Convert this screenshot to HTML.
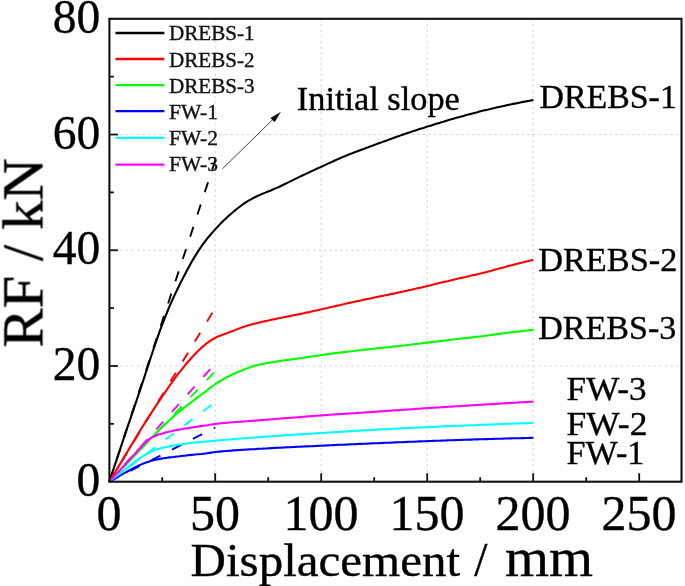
<!DOCTYPE html>
<html><head><meta charset="utf-8"><title>RF vs Displacement</title>
<style>html,body{margin:0;padding:0;background:#fff;font-family:"Liberation Serif",serif}body{width:685px;height:586px;overflow:hidden}</style>
</head><body>
<svg width="685" height="586" viewBox="0 0 685 586" style="display:block;font-family:'Liberation Serif',serif">
<defs><filter id="soft" x="0" y="0" width="685" height="586" filterUnits="userSpaceOnUse" color-interpolation-filters="sRGB"><feGaussianBlur stdDeviation="0.5"/></filter></defs>
<style>text{stroke:#000;stroke-width:0.35px;paint-order:stroke fill}</style>
<rect width="685" height="586" fill="#ffffff"/>
<g filter="url(#soft)">
<line x1="215.20" y1="18.80" x2="215.20" y2="481.70" stroke="#d2d2d2" stroke-width="1" stroke-dasharray="2.3 3.2"/>
<line x1="321.20" y1="18.80" x2="321.20" y2="481.70" stroke="#d2d2d2" stroke-width="1" stroke-dasharray="2.3 3.2"/>
<line x1="427.20" y1="18.80" x2="427.20" y2="481.70" stroke="#d2d2d2" stroke-width="1" stroke-dasharray="2.3 3.2"/>
<line x1="533.20" y1="18.80" x2="533.20" y2="481.70" stroke="#d2d2d2" stroke-width="1" stroke-dasharray="2.3 3.2"/>
<line x1="109.40" y1="365.98" x2="681.50" y2="365.98" stroke="#d2d2d2" stroke-width="1" stroke-dasharray="2.3 3.2"/>
<line x1="109.40" y1="250.25" x2="681.50" y2="250.25" stroke="#d2d2d2" stroke-width="1" stroke-dasharray="2.3 3.2"/>
<line x1="109.40" y1="134.52" x2="681.50" y2="134.52" stroke="#d2d2d2" stroke-width="1" stroke-dasharray="2.3 3.2"/>
<line x1="109.40" y1="481.70" x2="215.20" y2="427.54" stroke="#0000ff" stroke-width="1.9" stroke-dasharray="10.4 13.05"/>
<line x1="109.40" y1="481.70" x2="215.20" y2="402.25" stroke="#00ffff" stroke-width="1.9" stroke-dasharray="10.4 13.05"/>
<line x1="109.40" y1="481.70" x2="215.20" y2="371.36" stroke="#00ff00" stroke-width="1.9" stroke-dasharray="10.4 13.05"/>
<line x1="109.40" y1="481.70" x2="215.20" y2="363.66" stroke="#ff00ff" stroke-width="1.9" stroke-dasharray="10.4 13.05"/>
<line x1="109.40" y1="481.70" x2="215.20" y2="308.11" stroke="#ff0000" stroke-width="1.9" stroke-dasharray="10.4 13.05"/>
<line x1="109.40" y1="481.70" x2="217.32" y2="154.20" stroke="#000000" stroke-width="1.9" stroke-dasharray="10.4 13.05"/>
<path d="M109.4 481.5 L111.4 475.4 L113.4 469.4 L115.4 463.3 L117.4 457.3 L119.4 451.3 L121.4 445.3 L123.4 439.3 L125.4 433.4 L127.4 427.4 L129.4 421.6 L131.4 415.7 L133.4 409.8 L135.4 403.9 L137.4 398.0 L139.4 392.1 L141.4 386.1 L143.4 380.0 L145.4 373.9 L147.4 367.7 L149.4 361.6 L151.4 355.5 L153.4 349.5 L155.4 343.6 L157.4 337.8 L159.4 332.1 L161.4 326.7 L163.4 321.5 L165.4 316.4 L167.4 311.5 L169.4 306.7 L171.4 302.1 L173.4 297.6 L175.4 293.4 L177.4 289.2 L179.4 285.1 L181.4 281.1 L183.4 277.2 L185.4 273.4 L187.4 269.6 L189.4 265.9 L191.4 262.3 L193.4 258.9 L195.4 255.6 L197.4 252.4 L199.4 249.3 L201.4 246.4 L203.4 243.6 L205.4 241.0 L207.4 238.4 L209.4 236.0 L211.4 233.6 L213.4 231.4 L215.4 229.1 L217.4 227.0 L219.4 224.9 L221.4 222.8 L223.4 220.8 L225.4 218.9 L227.4 217.0 L229.4 215.2 L231.4 213.5 L233.4 211.8 L235.4 210.1 L237.4 208.5 L239.4 207.0 L241.4 205.5 L243.4 204.0 L245.4 202.7 L247.4 201.4 L249.4 200.2 L251.4 199.1 L253.4 198.0 L255.4 197.0 L257.4 196.0 L259.4 195.1 L261.4 194.3 L263.4 193.4 L265.4 192.6 L267.4 191.8 L269.4 191.0 L271.4 190.2 L273.4 189.3 L275.4 188.4 L277.4 187.6 L279.4 186.7 L281.4 185.7 L283.4 184.8 L285.4 183.8 L287.4 182.9 L289.4 181.9 L291.4 180.9 L293.4 179.9 L295.4 178.9 L297.4 177.9 L299.4 176.9 L301.4 176.0 L303.4 175.0 L305.4 174.1 L307.4 173.1 L309.4 172.2 L311.4 171.3 L313.4 170.4 L315.4 169.4 L317.4 168.5 L319.4 167.6 L321.4 166.7 L323.4 165.8 L325.4 164.9 L327.4 163.9 L329.4 163.0 L331.4 162.1 L333.4 161.2 L335.4 160.3 L337.4 159.4 L339.4 158.5 L341.4 157.6 L343.4 156.8 L345.4 156.0 L347.4 155.1 L349.4 154.3 L351.4 153.6 L353.4 152.8 L355.4 152.0 L357.4 151.3 L359.4 150.5 L361.4 149.8 L363.4 149.1 L365.4 148.3 L367.4 147.6 L369.4 146.8 L371.4 146.1 L373.4 145.3 L375.4 144.6 L377.4 143.8 L379.4 143.1 L381.4 142.4 L383.4 141.6 L385.4 140.9 L387.4 140.2 L389.4 139.4 L391.4 138.7 L393.4 138.0 L395.4 137.3 L397.4 136.6 L399.4 135.9 L401.4 135.1 L403.4 134.4 L405.4 133.8 L407.4 133.1 L409.4 132.4 L411.4 131.7 L413.4 131.1 L415.4 130.4 L417.4 129.8 L419.4 129.1 L421.4 128.5 L423.4 127.9 L425.4 127.2 L427.4 126.6 L429.4 126.0 L431.4 125.4 L433.4 124.7 L435.4 124.1 L437.4 123.5 L439.4 122.9 L441.4 122.3 L443.4 121.7 L445.4 121.0 L447.4 120.4 L449.4 119.8 L451.4 119.3 L453.4 118.7 L455.4 118.1 L457.4 117.5 L459.4 117.0 L461.4 116.4 L463.4 115.9 L465.4 115.3 L467.4 114.8 L469.4 114.2 L471.4 113.7 L473.4 113.2 L475.4 112.7 L477.4 112.2 L479.4 111.6 L481.4 111.1 L483.4 110.6 L485.4 110.1 L487.4 109.7 L489.4 109.2 L491.4 108.7 L493.4 108.2 L495.4 107.8 L497.4 107.3 L499.4 106.9 L501.4 106.4 L503.4 106.0 L505.4 105.6 L507.4 105.1 L509.4 104.7 L511.4 104.3 L513.4 103.9 L515.4 103.5 L517.4 103.1 L519.4 102.7 L521.4 102.3 L523.4 101.9 L525.4 101.5 L527.4 101.1 L529.4 100.8 L531.4 100.4 L533.4 100.0" fill="none" stroke="#000000" stroke-width="2.1" stroke-linejoin="round"/>
<path d="M109.4 481.5 L111.4 478.2 L113.4 474.9 L115.4 471.7 L117.4 468.4 L119.4 465.1 L121.4 461.7 L123.4 458.4 L125.4 455.1 L127.4 451.7 L129.4 448.4 L131.4 445.0 L133.4 441.7 L135.4 438.3 L137.4 435.0 L139.4 431.8 L141.4 428.5 L143.4 425.3 L145.4 422.1 L147.4 418.9 L149.4 415.8 L151.4 412.7 L153.4 409.6 L155.4 406.6 L157.4 403.6 L159.4 400.6 L161.4 397.7 L163.4 394.7 L165.4 391.8 L167.4 388.9 L169.4 386.0 L171.4 383.1 L173.4 380.3 L175.4 377.6 L177.4 374.9 L179.4 372.3 L181.4 369.8 L183.4 367.3 L185.4 364.9 L187.4 362.5 L189.4 360.2 L191.4 358.0 L193.4 355.8 L195.4 353.7 L197.4 351.6 L199.4 349.7 L201.4 347.8 L203.4 346.1 L205.4 344.4 L207.4 342.8 L209.4 341.4 L211.4 340.0 L213.4 338.8 L215.4 337.7 L217.4 336.8 L219.4 335.9 L221.4 335.2 L223.4 334.4 L225.4 333.7 L227.4 333.0 L229.4 332.3 L231.4 331.5 L233.4 330.7 L235.4 329.9 L237.4 329.1 L239.4 328.4 L241.4 327.6 L243.4 326.9 L245.4 326.3 L247.4 325.6 L249.4 325.1 L251.4 324.5 L253.4 324.0 L255.4 323.5 L257.4 323.0 L259.4 322.5 L261.4 322.0 L263.4 321.5 L265.4 321.1 L267.4 320.7 L269.4 320.2 L271.4 319.8 L273.4 319.4 L275.4 319.0 L277.4 318.6 L279.4 318.1 L281.4 317.7 L283.4 317.3 L285.4 316.9 L287.4 316.5 L289.4 316.1 L291.4 315.7 L293.4 315.3 L295.4 314.9 L297.4 314.5 L299.4 314.1 L301.4 313.7 L303.4 313.3 L305.4 312.8 L307.4 312.4 L309.4 312.0 L311.4 311.5 L313.4 311.1 L315.4 310.6 L317.4 310.2 L319.4 309.7 L321.4 309.3 L323.4 308.8 L325.4 308.4 L327.4 307.9 L329.4 307.4 L331.4 307.0 L333.4 306.5 L335.4 306.1 L337.4 305.6 L339.4 305.2 L341.4 304.7 L343.4 304.3 L345.4 303.8 L347.4 303.3 L349.4 302.9 L351.4 302.4 L353.4 302.0 L355.4 301.6 L357.4 301.1 L359.4 300.7 L361.4 300.3 L363.4 299.8 L365.4 299.4 L367.4 299.0 L369.4 298.6 L371.4 298.2 L373.4 297.7 L375.4 297.3 L377.4 296.9 L379.4 296.5 L381.4 296.1 L383.4 295.7 L385.4 295.3 L387.4 294.9 L389.4 294.4 L391.4 294.0 L393.4 293.6 L395.4 293.2 L397.4 292.8 L399.4 292.3 L401.4 291.9 L403.4 291.5 L405.4 291.0 L407.4 290.6 L409.4 290.1 L411.4 289.7 L413.4 289.2 L415.4 288.8 L417.4 288.3 L419.4 287.9 L421.4 287.4 L423.4 286.9 L425.4 286.5 L427.4 286.0 L429.4 285.5 L431.4 285.1 L433.4 284.6 L435.4 284.1 L437.4 283.6 L439.4 283.1 L441.4 282.6 L443.4 282.1 L445.4 281.6 L447.4 281.2 L449.4 280.7 L451.4 280.2 L453.4 279.7 L455.4 279.3 L457.4 278.8 L459.4 278.3 L461.4 277.9 L463.4 277.4 L465.4 277.0 L467.4 276.5 L469.4 276.1 L471.4 275.6 L473.4 275.1 L475.4 274.7 L477.4 274.2 L479.4 273.7 L481.4 273.3 L483.4 272.8 L485.4 272.3 L487.4 271.7 L489.4 271.2 L491.4 270.7 L493.4 270.1 L495.4 269.6 L497.4 269.1 L499.4 268.5 L501.4 268.0 L503.4 267.4 L505.4 266.9 L507.4 266.3 L509.4 265.8 L511.4 265.3 L513.4 264.7 L515.4 264.2 L517.4 263.7 L519.4 263.2 L521.4 262.7 L523.4 262.2 L525.4 261.8 L527.4 261.3 L529.4 260.8 L531.4 260.3 L533.4 259.8" fill="none" stroke="#ff0000" stroke-width="2.1" stroke-linejoin="round"/>
<path d="M109.4 481.5 L111.4 479.5 L113.4 477.5 L115.4 475.4 L117.4 473.4 L119.4 471.4 L121.4 469.3 L123.4 467.2 L125.4 465.2 L127.4 463.1 L129.4 461.0 L131.4 458.9 L133.4 456.9 L135.4 454.8 L137.4 452.7 L139.4 450.6 L141.4 448.5 L143.4 446.4 L145.4 444.2 L147.4 442.1 L149.4 440.0 L151.4 437.9 L153.4 435.9 L155.4 433.8 L157.4 431.8 L159.4 429.8 L161.4 427.8 L163.4 425.9 L165.4 424.0 L167.4 422.0 L169.4 420.2 L171.4 418.4 L173.4 416.6 L175.4 414.8 L177.4 413.2 L179.4 411.5 L181.4 409.9 L183.4 408.3 L185.4 406.7 L187.4 405.2 L189.4 403.6 L191.4 402.1 L193.4 400.6 L195.4 399.2 L197.4 397.7 L199.4 396.2 L201.4 394.7 L203.4 393.1 L205.4 391.6 L207.4 390.0 L209.4 388.4 L211.4 386.9 L213.4 385.5 L215.4 384.1 L217.4 382.8 L219.4 381.5 L221.4 380.3 L223.4 379.2 L225.4 378.1 L227.4 377.0 L229.4 376.0 L231.4 375.0 L233.4 374.0 L235.4 373.1 L237.4 372.2 L239.4 371.4 L241.4 370.6 L243.4 369.8 L245.4 369.0 L247.4 368.2 L249.4 367.5 L251.4 366.8 L253.4 366.2 L255.4 365.6 L257.4 365.0 L259.4 364.5 L261.4 364.1 L263.4 363.7 L265.4 363.3 L267.4 363.0 L269.4 362.6 L271.4 362.3 L273.4 362.0 L275.4 361.7 L277.4 361.4 L279.4 361.1 L281.4 360.8 L283.4 360.5 L285.4 360.2 L287.4 359.9 L289.4 359.7 L291.4 359.4 L293.4 359.1 L295.4 358.8 L297.4 358.6 L299.4 358.3 L301.4 358.0 L303.4 357.7 L305.4 357.4 L307.4 357.1 L309.4 356.8 L311.4 356.5 L313.4 356.2 L315.4 355.9 L317.4 355.6 L319.4 355.3 L321.4 355.0 L323.4 354.7 L325.4 354.4 L327.4 354.2 L329.4 353.9 L331.4 353.7 L333.4 353.4 L335.4 353.1 L337.4 352.9 L339.4 352.7 L341.4 352.4 L343.4 352.2 L345.4 351.9 L347.4 351.7 L349.4 351.5 L351.4 351.2 L353.4 351.0 L355.4 350.7 L357.4 350.5 L359.4 350.3 L361.4 350.1 L363.4 349.8 L365.4 349.6 L367.4 349.4 L369.4 349.2 L371.4 349.0 L373.4 348.8 L375.4 348.5 L377.4 348.3 L379.4 348.1 L381.4 347.9 L383.4 347.7 L385.4 347.5 L387.4 347.3 L389.4 347.1 L391.4 346.8 L393.4 346.6 L395.4 346.4 L397.4 346.2 L399.4 346.0 L401.4 345.7 L403.4 345.5 L405.4 345.3 L407.4 345.0 L409.4 344.8 L411.4 344.6 L413.4 344.3 L415.4 344.1 L417.4 343.8 L419.4 343.6 L421.4 343.3 L423.4 343.1 L425.4 342.9 L427.4 342.6 L429.4 342.4 L431.4 342.1 L433.4 341.9 L435.4 341.7 L437.4 341.4 L439.4 341.2 L441.4 340.9 L443.4 340.7 L445.4 340.5 L447.4 340.2 L449.4 340.0 L451.4 339.7 L453.4 339.5 L455.4 339.3 L457.4 339.0 L459.4 338.8 L461.4 338.6 L463.4 338.3 L465.4 338.1 L467.4 337.9 L469.4 337.7 L471.4 337.4 L473.4 337.2 L475.4 336.9 L477.4 336.7 L479.4 336.5 L481.4 336.2 L483.4 336.0 L485.4 335.7 L487.4 335.5 L489.4 335.2 L491.4 334.9 L493.4 334.7 L495.4 334.4 L497.4 334.1 L499.4 333.9 L501.4 333.6 L503.4 333.3 L505.4 333.1 L507.4 332.8 L509.4 332.6 L511.4 332.3 L513.4 332.1 L515.4 331.8 L517.4 331.6 L519.4 331.4 L521.4 331.2 L523.4 330.9 L525.4 330.7 L527.4 330.5 L529.4 330.3 L531.4 330.1 L533.4 329.9" fill="none" stroke="#00ff00" stroke-width="2.1" stroke-linejoin="round"/>
<path d="M109.4 481.5 L111.4 480.4 L113.4 479.2 L115.4 478.1 L117.4 477.0 L119.4 475.9 L121.4 474.8 L123.4 473.7 L125.4 472.6 L127.4 471.5 L129.4 470.4 L131.4 469.3 L133.4 468.3 L135.4 467.3 L137.4 466.3 L139.4 465.3 L141.4 464.4 L143.4 463.5 L145.4 462.8 L147.4 462.0 L149.4 461.4 L151.4 460.8 L153.4 460.3 L155.4 459.8 L157.4 459.4 L159.4 459.0 L161.4 458.6 L163.4 458.3 L165.4 458.0 L167.4 457.7 L169.4 457.4 L171.4 457.2 L173.4 457.0 L175.4 456.7 L177.4 456.5 L179.4 456.3 L181.4 456.0 L183.4 455.8 L185.4 455.6 L187.4 455.3 L189.4 455.1 L191.4 454.9 L193.4 454.7 L195.4 454.5 L197.4 454.3 L199.4 454.2 L201.4 454.0 L203.4 453.7 L205.4 453.5 L207.4 453.2 L209.4 452.9 L211.4 452.6 L213.4 452.3 L215.4 452.0 L217.4 451.8 L219.4 451.6 L221.4 451.4 L223.4 451.2 L225.4 451.0 L227.4 450.9 L229.4 450.7 L231.4 450.6 L233.4 450.4 L235.4 450.3 L237.4 450.1 L239.4 450.0 L241.4 449.9 L243.4 449.8 L245.4 449.6 L247.4 449.5 L249.4 449.4 L251.4 449.3 L253.4 449.2 L255.4 449.1 L257.4 448.9 L259.4 448.8 L261.4 448.7 L263.4 448.6 L265.4 448.5 L267.4 448.4 L269.4 448.2 L271.4 448.1 L273.4 448.0 L275.4 447.9 L277.4 447.8 L279.4 447.7 L281.4 447.6 L283.4 447.5 L285.4 447.4 L287.4 447.3 L289.4 447.2 L291.4 447.1 L293.4 447.0 L295.4 446.9 L297.4 446.8 L299.4 446.7 L301.4 446.6 L303.4 446.5 L305.4 446.4 L307.4 446.4 L309.4 446.3 L311.4 446.2 L313.4 446.1 L315.4 446.0 L317.4 445.9 L319.4 445.8 L321.4 445.7 L323.4 445.6 L325.4 445.5 L327.4 445.4 L329.4 445.3 L331.4 445.2 L333.4 445.1 L335.4 445.0 L337.4 444.9 L339.4 444.8 L341.4 444.8 L343.4 444.7 L345.4 444.6 L347.4 444.5 L349.4 444.4 L351.4 444.3 L353.4 444.2 L355.4 444.1 L357.4 444.0 L359.4 443.9 L361.4 443.9 L363.4 443.8 L365.4 443.7 L367.4 443.6 L369.4 443.5 L371.4 443.4 L373.4 443.3 L375.4 443.3 L377.4 443.2 L379.4 443.1 L381.4 443.0 L383.4 442.9 L385.4 442.8 L387.4 442.7 L389.4 442.7 L391.4 442.6 L393.4 442.5 L395.4 442.4 L397.4 442.3 L399.4 442.2 L401.4 442.2 L403.4 442.1 L405.4 442.0 L407.4 441.9 L409.4 441.8 L411.4 441.7 L413.4 441.7 L415.4 441.6 L417.4 441.5 L419.4 441.4 L421.4 441.4 L423.4 441.3 L425.4 441.2 L427.4 441.1 L429.4 441.0 L431.4 441.0 L433.4 440.9 L435.4 440.8 L437.4 440.8 L439.4 440.7 L441.4 440.6 L443.4 440.5 L445.4 440.5 L447.4 440.4 L449.4 440.3 L451.4 440.2 L453.4 440.2 L455.4 440.1 L457.4 440.0 L459.4 440.0 L461.4 439.9 L463.4 439.8 L465.4 439.8 L467.4 439.7 L469.4 439.6 L471.4 439.6 L473.4 439.5 L475.4 439.4 L477.4 439.4 L479.4 439.3 L481.4 439.3 L483.4 439.2 L485.4 439.1 L487.4 439.1 L489.4 439.0 L491.4 439.0 L493.4 438.9 L495.4 438.8 L497.4 438.8 L499.4 438.7 L501.4 438.7 L503.4 438.6 L505.4 438.5 L507.4 438.5 L509.4 438.4 L511.4 438.4 L513.4 438.3 L515.4 438.3 L517.4 438.2 L519.4 438.2 L521.4 438.1 L523.4 438.1 L525.4 438.0 L527.4 438.0 L529.4 437.9 L531.4 437.9 L533.4 437.8" fill="none" stroke="#0000ff" stroke-width="2.1" stroke-linejoin="round"/>
<path d="M109.4 481.5 L111.4 480.0 L113.4 478.5 L115.4 477.0 L117.4 475.5 L119.4 473.9 L121.4 472.4 L123.4 470.8 L125.4 469.3 L127.4 467.7 L129.4 466.1 L131.4 464.5 L133.4 462.9 L135.4 461.4 L137.4 459.9 L139.4 458.5 L141.4 457.2 L143.4 455.9 L145.4 454.7 L147.4 453.6 L149.4 452.5 L151.4 451.6 L153.4 450.7 L155.4 449.9 L157.4 449.3 L159.4 448.7 L161.4 448.1 L163.4 447.6 L165.4 447.2 L167.4 446.8 L169.4 446.4 L171.4 446.0 L173.4 445.6 L175.4 445.2 L177.4 444.9 L179.4 444.6 L181.4 444.3 L183.4 444.0 L185.4 443.7 L187.4 443.4 L189.4 443.1 L191.4 442.9 L193.4 442.7 L195.4 442.5 L197.4 442.3 L199.4 442.1 L201.4 441.9 L203.4 441.7 L205.4 441.6 L207.4 441.4 L209.4 441.2 L211.4 441.0 L213.4 440.9 L215.4 440.7 L217.4 440.5 L219.4 440.3 L221.4 440.2 L223.4 440.0 L225.4 439.8 L227.4 439.7 L229.4 439.5 L231.4 439.3 L233.4 439.1 L235.4 439.0 L237.4 438.8 L239.4 438.7 L241.4 438.5 L243.4 438.3 L245.4 438.2 L247.4 438.0 L249.4 437.9 L251.4 437.7 L253.4 437.5 L255.4 437.4 L257.4 437.2 L259.4 437.1 L261.4 437.0 L263.4 436.8 L265.4 436.7 L267.4 436.5 L269.4 436.4 L271.4 436.2 L273.4 436.1 L275.4 436.0 L277.4 435.8 L279.4 435.7 L281.4 435.6 L283.4 435.4 L285.4 435.3 L287.4 435.2 L289.4 435.0 L291.4 434.9 L293.4 434.8 L295.4 434.6 L297.4 434.5 L299.4 434.4 L301.4 434.3 L303.4 434.1 L305.4 434.0 L307.4 433.9 L309.4 433.7 L311.4 433.6 L313.4 433.5 L315.4 433.4 L317.4 433.2 L319.4 433.1 L321.4 433.0 L323.4 432.9 L325.4 432.7 L327.4 432.6 L329.4 432.5 L331.4 432.4 L333.4 432.2 L335.4 432.1 L337.4 432.0 L339.4 431.9 L341.4 431.7 L343.4 431.6 L345.4 431.5 L347.4 431.4 L349.4 431.2 L351.4 431.1 L353.4 431.0 L355.4 430.9 L357.4 430.8 L359.4 430.6 L361.4 430.5 L363.4 430.4 L365.4 430.3 L367.4 430.2 L369.4 430.1 L371.4 430.0 L373.4 429.9 L375.4 429.7 L377.4 429.6 L379.4 429.5 L381.4 429.4 L383.4 429.3 L385.4 429.2 L387.4 429.1 L389.4 429.0 L391.4 428.9 L393.4 428.8 L395.4 428.7 L397.4 428.6 L399.4 428.5 L401.4 428.4 L403.4 428.3 L405.4 428.2 L407.4 428.1 L409.4 428.0 L411.4 427.9 L413.4 427.8 L415.4 427.7 L417.4 427.6 L419.4 427.5 L421.4 427.4 L423.4 427.3 L425.4 427.2 L427.4 427.1 L429.4 427.0 L431.4 426.9 L433.4 426.9 L435.4 426.8 L437.4 426.7 L439.4 426.6 L441.4 426.5 L443.4 426.4 L445.4 426.3 L447.4 426.2 L449.4 426.2 L451.4 426.1 L453.4 426.0 L455.4 425.9 L457.4 425.8 L459.4 425.7 L461.4 425.7 L463.4 425.6 L465.4 425.5 L467.4 425.4 L469.4 425.3 L471.4 425.2 L473.4 425.2 L475.4 425.1 L477.4 425.0 L479.4 424.9 L481.4 424.8 L483.4 424.8 L485.4 424.7 L487.4 424.6 L489.4 424.5 L491.4 424.5 L493.4 424.4 L495.4 424.3 L497.4 424.2 L499.4 424.1 L501.4 424.1 L503.4 424.0 L505.4 423.9 L507.4 423.8 L509.4 423.8 L511.4 423.7 L513.4 423.6 L515.4 423.5 L517.4 423.5 L519.4 423.4 L521.4 423.3 L523.4 423.3 L525.4 423.2 L527.4 423.1 L529.4 423.0 L531.4 423.0 L533.4 422.9" fill="none" stroke="#00ffff" stroke-width="2.1" stroke-linejoin="round"/>
<path d="M109.4 481.5 L111.4 479.3 L113.4 477.2 L115.4 475.0 L117.4 472.9 L119.4 470.7 L121.4 468.6 L123.4 466.4 L125.4 464.2 L127.4 462.0 L129.4 459.8 L131.4 457.6 L133.4 455.4 L135.4 453.2 L137.4 451.0 L139.4 448.8 L141.4 446.6 L143.4 444.5 L145.4 442.4 L147.4 440.6 L149.4 439.0 L151.4 437.7 L153.4 436.6 L155.4 435.7 L157.4 435.0 L159.4 434.3 L161.4 433.7 L163.4 433.2 L165.4 432.6 L167.4 432.1 L169.4 431.6 L171.4 431.2 L173.4 430.7 L175.4 430.3 L177.4 429.9 L179.4 429.5 L181.4 429.2 L183.4 428.8 L185.4 428.5 L187.4 428.2 L189.4 427.9 L191.4 427.5 L193.4 427.3 L195.4 427.0 L197.4 426.7 L199.4 426.4 L201.4 426.1 L203.4 425.8 L205.4 425.5 L207.4 425.2 L209.4 424.8 L211.4 424.5 L213.4 424.2 L215.4 423.9 L217.4 423.7 L219.4 423.4 L221.4 423.2 L223.4 423.0 L225.4 422.9 L227.4 422.7 L229.4 422.5 L231.4 422.3 L233.4 422.2 L235.4 422.0 L237.4 421.9 L239.4 421.7 L241.4 421.6 L243.4 421.5 L245.4 421.3 L247.4 421.2 L249.4 421.0 L251.4 420.9 L253.4 420.7 L255.4 420.6 L257.4 420.4 L259.4 420.3 L261.4 420.1 L263.4 420.0 L265.4 419.8 L267.4 419.6 L269.4 419.5 L271.4 419.3 L273.4 419.2 L275.4 419.0 L277.4 418.8 L279.4 418.7 L281.4 418.5 L283.4 418.3 L285.4 418.2 L287.4 418.0 L289.4 417.9 L291.4 417.7 L293.4 417.5 L295.4 417.4 L297.4 417.2 L299.4 417.1 L301.4 416.9 L303.4 416.7 L305.4 416.6 L307.4 416.4 L309.4 416.3 L311.4 416.1 L313.4 416.0 L315.4 415.8 L317.4 415.7 L319.4 415.5 L321.4 415.4 L323.4 415.2 L325.4 415.1 L327.4 415.0 L329.4 414.8 L331.4 414.7 L333.4 414.5 L335.4 414.4 L337.4 414.3 L339.4 414.1 L341.4 414.0 L343.4 413.9 L345.4 413.7 L347.4 413.6 L349.4 413.5 L351.4 413.3 L353.4 413.2 L355.4 413.1 L357.4 412.9 L359.4 412.8 L361.4 412.7 L363.4 412.5 L365.4 412.4 L367.4 412.3 L369.4 412.1 L371.4 412.0 L373.4 411.9 L375.4 411.7 L377.4 411.6 L379.4 411.4 L381.4 411.3 L383.4 411.2 L385.4 411.0 L387.4 410.9 L389.4 410.8 L391.4 410.6 L393.4 410.5 L395.4 410.3 L397.4 410.2 L399.4 410.1 L401.4 409.9 L403.4 409.8 L405.4 409.6 L407.4 409.5 L409.4 409.4 L411.4 409.2 L413.4 409.1 L415.4 408.9 L417.4 408.8 L419.4 408.7 L421.4 408.5 L423.4 408.4 L425.4 408.3 L427.4 408.1 L429.4 408.0 L431.4 407.9 L433.4 407.7 L435.4 407.6 L437.4 407.5 L439.4 407.4 L441.4 407.2 L443.4 407.1 L445.4 407.0 L447.4 406.8 L449.4 406.7 L451.4 406.6 L453.4 406.5 L455.4 406.3 L457.4 406.2 L459.4 406.1 L461.4 406.0 L463.4 405.8 L465.4 405.7 L467.4 405.6 L469.4 405.5 L471.4 405.3 L473.4 405.2 L475.4 405.1 L477.4 405.0 L479.4 404.8 L481.4 404.7 L483.4 404.6 L485.4 404.5 L487.4 404.3 L489.4 404.2 L491.4 404.1 L493.4 404.0 L495.4 403.9 L497.4 403.7 L499.4 403.6 L501.4 403.5 L503.4 403.4 L505.4 403.3 L507.4 403.1 L509.4 403.0 L511.4 402.9 L513.4 402.8 L515.4 402.7 L517.4 402.5 L519.4 402.4 L521.4 402.3 L523.4 402.2 L525.4 402.1 L527.4 402.0 L529.4 401.8 L531.4 401.7 L533.4 401.6" fill="none" stroke="#ff00ff" stroke-width="2.1" stroke-linejoin="round"/>
<rect x="109.40" y="18.80" width="572.10" height="462.90" fill="none" stroke="#111" stroke-width="2.1"/>
<line x1="162.20" y1="481.70" x2="162.20" y2="477.20" stroke="#111" stroke-width="1.8"/>
<line x1="215.20" y1="481.70" x2="215.20" y2="473.20" stroke="#111" stroke-width="1.8"/>
<line x1="268.20" y1="481.70" x2="268.20" y2="477.20" stroke="#111" stroke-width="1.8"/>
<line x1="321.20" y1="481.70" x2="321.20" y2="473.20" stroke="#111" stroke-width="1.8"/>
<line x1="374.20" y1="481.70" x2="374.20" y2="477.20" stroke="#111" stroke-width="1.8"/>
<line x1="427.20" y1="481.70" x2="427.20" y2="473.20" stroke="#111" stroke-width="1.8"/>
<line x1="480.20" y1="481.70" x2="480.20" y2="477.20" stroke="#111" stroke-width="1.8"/>
<line x1="533.20" y1="481.70" x2="533.20" y2="473.20" stroke="#111" stroke-width="1.8"/>
<line x1="586.20" y1="481.70" x2="586.20" y2="477.20" stroke="#111" stroke-width="1.8"/>
<line x1="639.20" y1="481.70" x2="639.20" y2="473.20" stroke="#111" stroke-width="1.8"/>
<line x1="109.40" y1="423.84" x2="113.90" y2="423.84" stroke="#111" stroke-width="1.8"/>
<line x1="109.40" y1="365.98" x2="117.90" y2="365.98" stroke="#111" stroke-width="1.8"/>
<line x1="109.40" y1="308.11" x2="113.90" y2="308.11" stroke="#111" stroke-width="1.8"/>
<line x1="109.40" y1="250.25" x2="117.90" y2="250.25" stroke="#111" stroke-width="1.8"/>
<line x1="109.40" y1="192.39" x2="113.90" y2="192.39" stroke="#111" stroke-width="1.8"/>
<line x1="109.40" y1="134.52" x2="117.90" y2="134.52" stroke="#111" stroke-width="1.8"/>
<line x1="109.40" y1="76.66" x2="113.90" y2="76.66" stroke="#111" stroke-width="1.8"/>
<text x="109.00" y="530.3" font-size="50" text-anchor="middle" fill="#000">0</text>
<text x="215.00" y="530.3" font-size="50" text-anchor="middle" fill="#000">50</text>
<text x="321.00" y="530.3" font-size="50" text-anchor="middle" fill="#000">100</text>
<text x="427.00" y="530.3" font-size="50" text-anchor="middle" fill="#000">150</text>
<text x="533.00" y="530.3" font-size="50" text-anchor="middle" fill="#000">200</text>
<text x="639.00" y="530.3" font-size="50" text-anchor="middle" fill="#000">250</text>
<text x="100.3" y="495.90" font-size="47.6" text-anchor="end" fill="#000">0</text>
<text x="100.3" y="380.18" font-size="47.6" text-anchor="end" fill="#000">20</text>
<text x="100.3" y="264.45" font-size="47.6" text-anchor="end" fill="#000">40</text>
<text x="100.3" y="148.72" font-size="47.6" text-anchor="end" fill="#000">60</text>
<text x="100.3" y="33.00" font-size="47.6" text-anchor="end" fill="#000">80</text>
<text x="190.6" y="576" font-size="46.3" textLength="269.5" lengthAdjust="spacingAndGlyphs" fill="#000">Displacement</text>
<text x="474.2" y="576" font-size="47.5" fill="#000">/</text>
<text x="505" y="576" font-size="54.5" textLength="88" lengthAdjust="spacingAndGlyphs" fill="#000">mm</text>
<text transform="translate(42.4 347.6) rotate(-90)" font-size="57.5" textLength="189.5" lengthAdjust="spacingAndGlyphs" fill="#000">RF / kN</text>
<line x1="115.5" y1="33.00" x2="164.4" y2="33.00" stroke="#000000" stroke-width="2.3"/>
<text x="169" y="40.10" font-size="21" textLength="85.5" lengthAdjust="spacingAndGlyphs" fill="#111">DREBS-1</text>
<line x1="115.5" y1="59.00" x2="164.4" y2="59.00" stroke="#ff0000" stroke-width="2.3"/>
<text x="169" y="66.50" font-size="21" textLength="85.5" lengthAdjust="spacingAndGlyphs" fill="#111">DREBS-2</text>
<line x1="115.5" y1="85.10" x2="164.4" y2="85.10" stroke="#00ff00" stroke-width="2.3"/>
<text x="169" y="92.60" font-size="21" textLength="85.5" lengthAdjust="spacingAndGlyphs" fill="#111">DREBS-3</text>
<line x1="115.5" y1="111.20" x2="164.4" y2="111.20" stroke="#0000ff" stroke-width="2.3"/>
<text x="169" y="118.90" font-size="21" textLength="49" lengthAdjust="spacingAndGlyphs" fill="#111">FW-1</text>
<line x1="115.5" y1="137.90" x2="164.4" y2="137.90" stroke="#00ffff" stroke-width="2.3"/>
<text x="169" y="145.30" font-size="21" textLength="49" lengthAdjust="spacingAndGlyphs" fill="#111">FW-2</text>
<line x1="115.5" y1="164.60" x2="164.4" y2="164.60" stroke="#ff00ff" stroke-width="2.3"/>
<text x="169" y="171.40" font-size="21" textLength="49" lengthAdjust="spacingAndGlyphs" fill="#111">FW-3</text>
<text x="296.8" y="109.8" font-size="34" textLength="163" lengthAdjust="spacingAndGlyphs" fill="#000">Initial slope</text>
<line x1="222.3" y1="168.9" x2="274" y2="118.4" stroke="#222" stroke-width="0.85"/>
<path d="M280.9 111.7 L270.4 117.9 L274.7 122.3 Z" fill="#111"/>
<text x="539.6" y="107.6" font-size="33" textLength="137.2" lengthAdjust="spacingAndGlyphs" fill="#000">DREBS-1</text>
<text x="538.2" y="270.9" font-size="33" textLength="139.2" lengthAdjust="spacingAndGlyphs" fill="#000">DREBS-2</text>
<text x="538.2" y="339.1" font-size="33" textLength="138.2" lengthAdjust="spacingAndGlyphs" fill="#000">DREBS-3</text>
<text x="566.6" y="400.0" font-size="33" textLength="80" lengthAdjust="spacingAndGlyphs" fill="#000">FW-3</text>
<text x="566.6" y="435.0" font-size="33" textLength="80.8" lengthAdjust="spacingAndGlyphs" fill="#000">FW-2</text>
<text x="566.6" y="464.2" font-size="33" textLength="77.8" lengthAdjust="spacingAndGlyphs" fill="#000">FW-1</text>
</g>
</svg>
</body></html>
